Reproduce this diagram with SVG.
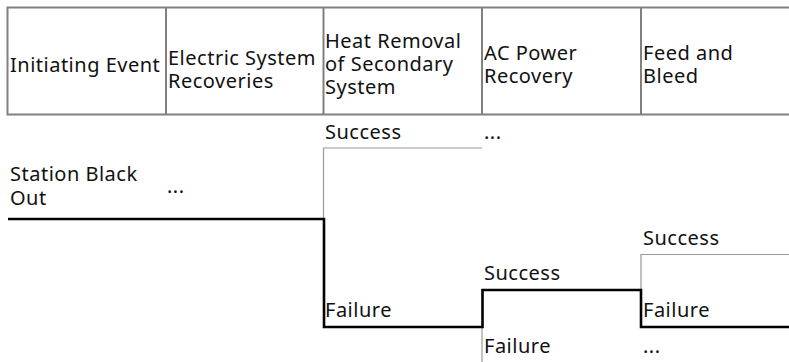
<svg xmlns="http://www.w3.org/2000/svg" width="789" height="362" viewBox="0 0 789 362">
<style>
.t{font-family:"Noto Sans","Open Sans",sans-serif;font-size:20px;letter-spacing:0.5px;fill:#111}
.hdr{fill:none;stroke:#808080;stroke-width:2}
.thin{fill:none;stroke:#999;stroke-width:1.2}
.thick{fill:none;stroke:#000;stroke-width:2.6}
</style>
<rect width="789" height="362" fill="#fff"/>
<g id="header">
<rect class="hdr" x="7.5" y="7.5" width="790" height="107"/>
<line class="hdr" x1="166" y1="7.5" x2="166" y2="114.5"/>
<line class="hdr" x1="323.5" y1="7.5" x2="323.5" y2="114.5"/>
<line class="hdr" x1="482" y1="7.5" x2="482" y2="114.5"/>
<line class="hdr" x1="641" y1="7.5" x2="641" y2="114.5"/>
<text class="t" x="10" y="72">Initiating Event</text>
<text class="t" x="168"><tspan x="168" y="65">Electric System</tspan><tspan x="168" y="88">Recoveries</tspan></text>
<text class="t"><tspan x="325" y="48">Heat Removal</tspan><tspan x="325" y="71">of Secondary</tspan><tspan x="325" y="94">System</tspan></text>
<text class="t"><tspan x="484" y="60">AC Power</tspan><tspan x="484" y="83">Recovery</tspan></text>
<text class="t"><tspan x="643" y="60">Feed and</tspan><tspan x="643" y="83">Bleed</tspan></text>
</g>
<g id="connectors">
<polyline class="thin" points="323.5,219 323.5,148 482,148"/>
<line class="thin" x1="482" y1="327" x2="482" y2="362"/>
<polyline class="thin" points="641,290 641,254.5 789,254.5"/>
<polyline class="thick" points="8,219 324,219 324,327 482.5,327 482.5,290 641,290 641,327 789,327"/>
</g>
<g id="ie"><text class="t"><tspan x="10" y="181">Station Black</tspan><tspan x="10" y="205">Out</tspan></text></g>
<g id="esr"><text class="t" x="167" y="193">...</text></g>
<g id="hr-s"><text class="t" x="325" y="139">Success</text></g>
<g id="hr-f"><text class="t" x="325" y="317">Failure</text></g>
<g id="ac-dots"><text class="t" x="484" y="139">...</text></g>
<g id="ac-s"><text class="t" x="484" y="280">Success</text></g>
<g id="ac-f"><text class="t" x="484" y="353">Failure</text></g>
<g id="fb-s"><text class="t" x="643" y="245">Success</text></g>
<g id="fb-f"><text class="t" x="643" y="317">Failure</text></g>
<g id="fb-dots"><text class="t" x="643" y="353">...</text></g>
</svg>
